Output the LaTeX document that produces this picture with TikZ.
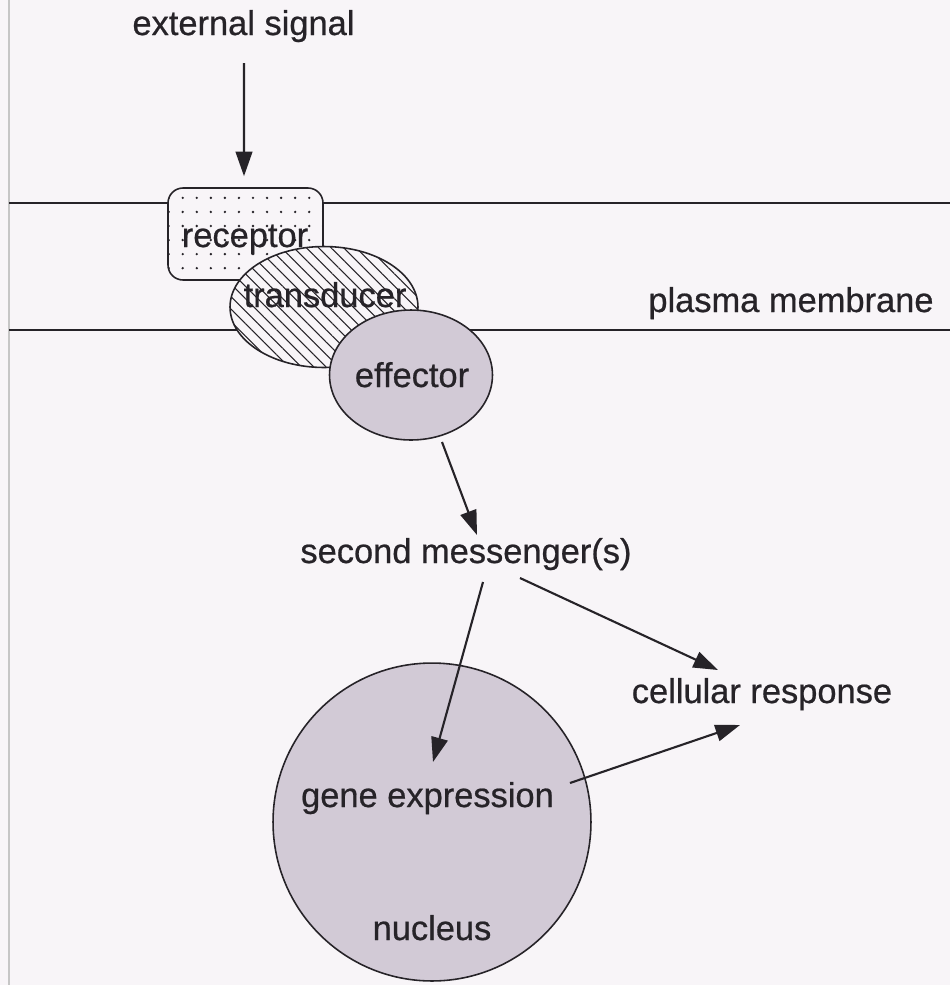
\documentclass[tikz,border=0pt]{standalone}
\usepackage{fontspec}
\setmainfont{Liberation Sans}[FakeBold=0.6]
\usetikzlibrary{shapes.geometric,patterns.meta,arrows.meta,calc}
\definecolor{paper}{RGB}{248,245,248}
\definecolor{ink}{RGB}{38,35,40}
\definecolor{mauve}{RGB}{210,202,214}
\begin{document}
\begin{tikzpicture}[x=0.02cm,y=-0.02cm]\fontsize{19.6}{23}\selectfont
      \tikzstyle{txt}=[anchor=base,inner sep=0pt,text=ink]
      \tikzstyle{wall}=[ink,line width=1.1pt]
      \tikzstyle{arr}=[ink,line width=1.2pt,-{Triangle[length=14pt,width=9.5pt]}]
      \tikzstyle{body}=[draw=ink,line width=0.9pt,inner sep=0pt]
      \tikzstyle{grain}=[fill=mauve]
      \fill[paper] (0,0) rectangle (950,985);
      \useasboundingbox (0,0) rectangle (950,985);
      \draw[gray!45,line width=1.2pt] (9,0) -- (9,985);
      \draw[wall] (9,203) -- (950,203);
      \draw[wall] (9,330) -- (950,330);
      \node[body,rectangle,rounded corners=0.3cm,minimum width=3.1cm,minimum height=1.84cm,fill=paper,
        postaction={pattern={Dots[distance=8pt,radius=0.75pt]},pattern color=ink}] (rec) at (245.5,234) {};
      \node[body,ellipse,minimum width=3.76cm,minimum height=2.42cm,fill=paper,
        postaction={pattern={Lines[angle=-45,distance=5pt,line width=0.6pt]},pattern color=ink}] (trans) at (324,307) {};
      \node[body,ellipse,grain,minimum width=3.26cm,minimum height=2.6cm] (eff) at (411,375) {};
      \node[body,circle,grain,minimum size=6.36cm] (nuc) at (432,822) {};
      \node[txt] (sig) at (243.5,35) {external signal};
      \node[txt] (rectxt) at (245,247) {receptor};
      \node[txt] (transtxt) at (325,307) {transducer};
      \node[txt] (pm) at (791,312) {plasma membrane};
      \node[txt] (efftxt) at (412,387) {effector};
      \node[txt] (msg) at (466,563) {second messenger(s)};
      \node[txt] (resp) at (762,703) {cellular response};
      \node[txt] (gene) at (427.5,807) {gene expression};
      \node[txt] (nuctxt) at (432,940) {nucleus};
      \draw[arr] ($(sig.base)+(0.5,28)$) -- ($(rec.north)+(-1.5,-11)$);
      \draw[arr] ($(eff.center)+(31,67)$) -- ($(msg.base)+(11,-28)$);
      \draw[arr] ($(msg.base)+(17,19)$) -- ($(gene.base)+(5.5,-45)$);
      \draw[arr] ($(msg.base)+(54,15)$) -- ($(resp.base)+(-44,-33)$);
      \draw[arr] ($(gene.base)+(142.5,-24)$) -- ($(resp.base)+(-22,22)$);
\end{tikzpicture}
\end{document}
